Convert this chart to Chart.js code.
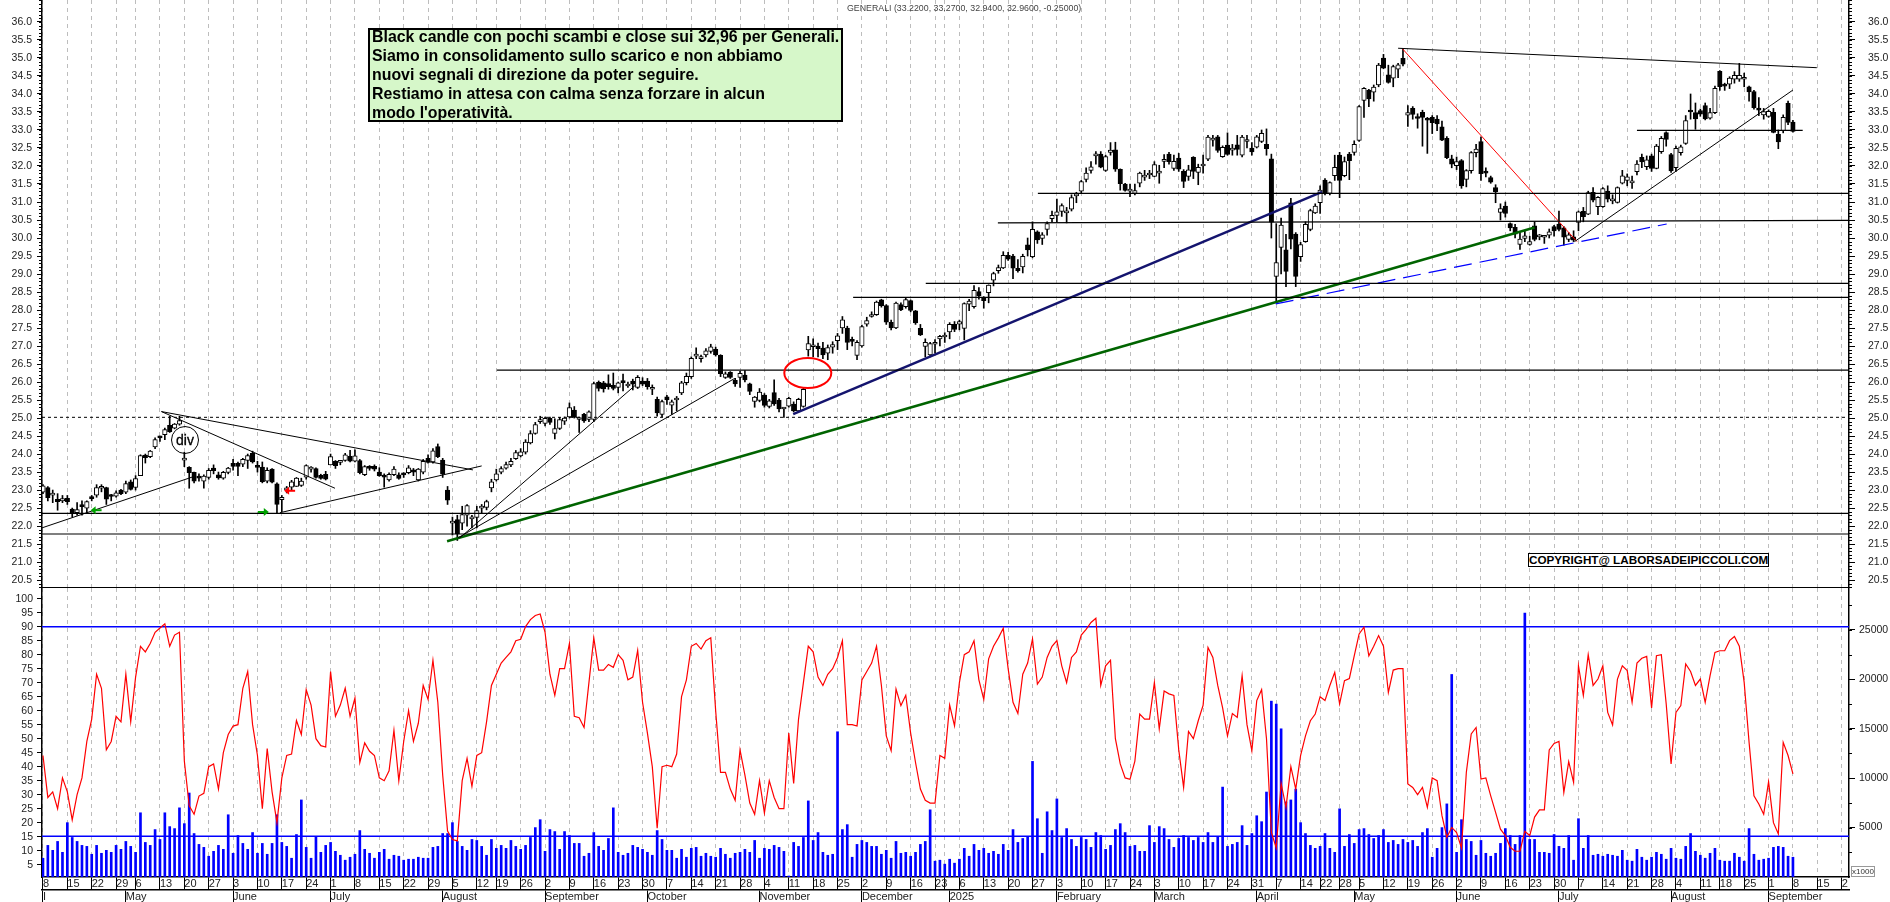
<!DOCTYPE html>
<html><head><meta charset="utf-8">
<style>
html,body{margin:0;padding:0;background:#fff;overflow:hidden;width:1890px;height:902px}
canvas{position:absolute;left:0}
#c1{top:0}#c2{top:588px}
.t{position:absolute;font-family:"Liberation Sans",Arial,sans-serif;white-space:pre}
#title{left:847px;top:2px;font-size:8.8px;color:#444;line-height:12px}
#note{left:368px;top:28px;width:469px;height:90px;background:#d6f7c9;border:2px solid #000;padding:0 0 0 2px;font-weight:bold;font-size:15.9px;line-height:18.9px;color:#000}
#note span{position:relative;top:-2px;display:block}
#copy{left:1528px;top:553px;width:239px;height:12px;background:#fff;border:1.5px solid #000;font-weight:bold;font-size:11.7px;line-height:12px;text-align:center;color:#000}
#divc{left:171px;top:426px;width:26px;height:26px;border:1px solid #000;border-radius:50%;text-align:center;font-size:14px;line-height:26px;color:#000;-webkit-text-stroke:0.3px #000}
#k{left:1851px;top:866px;width:22px;height:9px;border:1px solid #999;font-size:8px;line-height:9px;text-align:center;color:#333;background:#fff}
</style>
<script src="https://cdn.jsdelivr.net/npm/chart.js@4/dist/chart.umd.min.js"></script>
</head><body>
<canvas id="c1" width="1890" height="588"></canvas>
<canvas id="c2" width="1890" height="314"></canvas>
<div class="t" id="title">GENERALI (33.2200, 33.2700, 32.9400, 32.9600, -0.25000)</div>
<div class="t" id="note"><span>Black candle con pochi scambi e close sui 32,96 per Generali.
Siamo in consolidamento sullo scarico e non abbiamo
nuovi segnali di direzione da poter seguire.
Restiamo in attesa con calma senza forzare in alcun
modo l'operatività.</span></div>
<div class="t" id="copy">COPYRIGHT@ LABORSADEIPICCOLI.COM</div>
<div class="t" id="divc">div</div>
<div class="t" id="k">x1000</div>
<script>
const open=[22.94,23.07,22.86,22.74,22.7,22.77,22.47,22.37,22.6,22.5,
22.82,22.86,23.05,23.07,22.87,22.83,23.0,22.94,23.23,23.07,
23.4,23.97,23.93,24.2,24.46,24.54,24.8,24.72,24.83,23.83,
23.63,23.49,23.35,23.25,23.35,23.61,23.42,23.33,23.49,23.74,
23.74,23.72,23.82,24.02,23.65,23.64,23.25,23.58,23.17,22.73,
23.0,23.08,23.1,23.13,23.36,23.58,23.6,23.41,23.44,23.7,
23.8,23.77,23.82,23.94,23.8,23.82,23.43,23.66,23.66,23.5,
23.38,23.28,23.43,23.42,23.46,23.48,23.56,23.28,23.5,23.88,
23.78,24.21,23.83,23.0,22.08,22.18,22.08,22.3,22.2,22.24,
22.5,22.52,23.06,23.28,23.5,23.61,23.7,23.87,23.95,24.05,
24.31,24.57,24.9,24.85,24.99,24.57,24.71,24.91,25.03,25.22,
24.96,25.1,24.96,24.96,25.99,25.98,25.96,25.91,25.85,26.04,
25.89,26.03,25.85,26.03,26.03,25.8,25.52,25.1,25.59,25.36,
25.5,25.7,25.98,26.15,26.72,26.65,26.75,26.85,26.91,26.74,
26.13,26.27,26.05,26.13,26.19,25.95,25.46,25.49,25.64,25.32,
25.71,25.5,25.25,25.33,25.39,25.2,25.32,26.89,26.98,27.0,
26.94,26.8,26.97,27.15,27.5,27.5,27.15,26.74,27.0,27.61,
27.82,27.87,28.28,28.12,27.66,27.5,28.15,28.09,28.26,27.98,
27.49,26.99,26.75,27.05,27.2,27.25,27.39,27.6,27.61,27.49,
28.16,28.09,28.51,28.34,28.48,28.83,29.09,29.17,29.52,29.5,
29.16,29.2,29.81,29.48,30.17,29.99,30.24,30.54,30.63,30.74,
30.7,30.8,31.17,31.3,31.63,31.88,32.28,32.33,31.88,32.38,
32.45,31.91,31.5,31.3,31.24,31.52,31.69,31.75,31.71,31.8,
32.13,32.33,31.93,32.22,31.85,31.71,32.24,31.82,32.0,32.19,
32.72,32.81,32.26,32.58,32.44,32.59,32.3,32.68,32.5,32.52,
32.68,32.6,32.2,28.93,29.74,29.67,30.98,30.11,29.48,29.9,
30.24,30.7,30.98,31.61,31.24,31.73,32.3,31.73,32.33,32.38,
32.71,33.82,34.11,34.05,34.25,35.0,34.53,34.44,34.69,34.99,
33.41,33.6,33.33,33.49,33.3,33.35,33.3,33.09,32.77,32.2,
32.01,32.15,31.63,31.87,32.37,32.68,31.82,31.68,31.4,30.71,
30.89,30.4,30.3,29.82,29.99,29.82,30.34,30.03,30.02,30.08,
30.32,30.39,30.28,29.96,30.03,30.43,30.74,30.66,31.27,30.87,
30.87,31.3,31.03,30.99,31.52,31.6,31.53,31.84,32.24,31.98,
32.28,31.93,32.4,32.93,32.32,31.95,32.37,32.63,33.53,33.48,
33.54,33.68,33.33,33.48,34.63,34.27,34.27,34.41,34.41,34.41,
34.2,34.07,33.57,33.42,33.38,33.49,32.88,32.98,33.74,33.22];
const high=[23.15,23.1,23.0,22.9,22.85,22.85,22.5,22.65,22.7,22.7,
22.85,23.15,23.15,23.08,22.88,22.98,23.02,23.25,23.28,23.4,
23.98,24.0,24.1,24.45,24.5,24.72,25.05,24.85,25.05,24.05,
23.65,23.5,23.45,23.42,23.6,23.7,23.5,23.52,23.63,23.85,
23.78,23.88,24.0,24.08,23.8,23.78,23.62,23.6,23.2,22.85,
23.1,23.27,23.35,23.33,23.7,23.65,23.62,23.44,23.52,24.0,
23.82,23.82,24.02,24.1,24.12,23.85,23.68,23.68,23.7,23.62,
23.45,23.48,23.65,23.48,23.48,23.68,23.6,23.6,23.85,23.98,
24.15,24.28,23.88,23.1,22.25,22.3,22.55,22.6,22.3,22.55,
22.6,22.72,23.3,23.58,23.65,23.78,23.88,24.1,24.15,24.4,
24.65,24.88,25.05,25.03,25.03,24.98,25.02,25.03,25.42,25.32,
25.03,25.13,25.2,26.0,26.03,26.02,26.2,26.25,26.0,26.22,
26.0,26.08,26.18,26.12,26.1,25.92,25.58,25.5,25.63,25.5,
25.6,26.02,26.25,26.7,26.95,26.75,26.93,27.05,26.97,26.76,
26.28,26.29,26.1,26.3,26.32,25.97,25.6,25.82,25.68,25.52,
26.06,25.55,25.3,25.58,25.45,25.55,25.85,27.27,27.2,27.08,
27.1,27.03,27.12,27.35,27.82,27.55,27.25,27.15,27.58,27.8,
27.95,28.25,28.3,28.15,27.72,28.22,28.2,28.33,28.28,27.99,
27.6,27.2,27.1,27.18,27.3,27.37,27.65,27.68,27.72,28.2,
28.3,28.68,28.62,28.37,28.7,29.05,29.25,29.62,29.6,29.55,
29.4,29.55,30.0,30.45,30.2,30.15,30.45,30.75,31.08,30.95,
30.85,31.2,31.27,31.6,31.95,32.12,32.4,32.4,32.3,32.65,
32.66,31.92,31.52,31.5,31.5,31.83,31.88,31.88,32.12,32.02,
32.32,32.38,32.3,32.35,31.9,32.02,32.26,32.05,32.3,32.85,
32.85,32.85,32.56,32.92,32.6,32.85,32.85,32.85,32.65,32.85,
33.0,33.03,32.33,30.4,30.55,30.1,31.1,30.15,29.88,30.45,
30.8,30.95,31.45,31.65,31.56,32.3,32.38,32.25,32.38,32.7,
33.68,34.18,34.13,34.25,34.85,35.1,34.8,34.8,34.85,35.25,
33.68,33.65,33.45,33.55,33.35,33.4,33.4,33.25,32.82,32.3,
32.25,32.18,31.9,32.4,32.6,32.8,31.95,31.72,31.48,30.95,
31.0,30.42,30.38,30.15,30.2,30.05,30.45,30.1,30.06,30.25,
30.35,30.75,30.32,30.15,30.2,30.75,30.85,31.3,31.4,31.15,
31.4,31.45,31.2,31.42,31.88,31.78,31.72,32.15,32.33,32.28,
32.33,32.6,32.82,32.95,32.35,32.55,32.58,33.4,34.0,33.75,
33.58,33.75,33.6,34.22,34.65,34.3,34.48,34.62,34.85,34.58,
34.22,34.1,33.9,33.6,33.56,33.6,33.0,33.42,33.8,33.27];
const low=[22.9,22.7,22.65,22.44,22.65,22.6,22.25,22.3,22.3,22.35,
22.7,22.8,22.95,22.6,22.7,22.8,22.87,22.9,23.0,23.0,
23.4,23.75,23.9,24.15,24.35,24.4,24.6,24.7,24.8,23.65,
23.05,23.2,23.25,23.05,23.3,23.45,23.3,23.3,23.45,23.55,
23.4,23.65,23.6,23.75,23.5,23.2,23.2,23.2,22.35,22.4,
22.92,23.0,23.1,23.1,23.3,23.5,23.33,23.3,23.28,23.7,
23.6,23.7,23.8,23.78,23.78,23.45,23.4,23.55,23.53,23.38,
23.08,23.25,23.4,23.3,23.35,23.45,23.4,23.25,23.45,23.75,
23.75,23.9,23.35,22.6,21.75,21.6,21.9,22.0,21.95,21.95,
22.35,22.45,22.95,23.25,23.45,23.58,23.65,23.85,23.92,24.0,
24.28,24.55,24.85,24.78,24.82,24.42,24.68,24.82,25.0,25.0,
24.6,24.88,24.9,24.9,25.75,25.72,25.8,25.78,25.7,25.75,
25.85,25.78,25.82,25.9,25.8,25.65,25.05,25.03,25.38,25.1,
25.2,25.65,25.92,26.1,26.65,26.55,26.7,26.8,26.72,26.15,
26.1,26.1,25.88,25.85,26.0,25.65,25.3,25.45,25.3,25.28,
25.35,25.17,25.02,25.3,25.17,25.18,25.3,26.72,26.7,26.7,
26.65,26.62,26.8,26.9,27.35,26.9,27.0,26.62,26.97,27.55,
27.8,27.85,28.08,27.6,27.45,27.48,27.98,28.05,27.95,27.6,
27.29,26.7,26.7,26.8,27.0,27.1,27.2,27.4,27.45,27.17,
27.98,28.05,28.3,28.05,28.2,28.67,29.02,29.15,29.38,28.87,
29.05,29.03,29.5,29.45,29.85,29.82,30.08,30.45,30.45,30.6,
30.42,30.75,30.98,31.25,31.56,31.8,32.05,31.95,31.85,32.3,
31.85,31.33,31.3,31.15,31.2,31.42,31.6,31.65,31.7,31.52,
31.95,32.05,31.88,31.85,31.4,31.6,31.65,31.48,31.8,32.15,
32.55,32.38,32.24,32.3,32.3,32.3,32.25,32.5,32.3,32.5,
32.65,32.3,30.0,28.2,29.0,28.65,29.7,28.65,29.35,29.88,
30.2,30.68,30.68,31.2,31.2,31.6,31.12,31.7,31.62,32.3,
32.68,33.35,33.65,33.8,34.2,34.7,34.3,34.2,34.45,34.78,
33.1,33.3,33.05,32.55,32.35,32.9,32.98,32.7,32.2,31.95,
31.9,31.38,31.42,31.8,32.25,31.6,31.7,31.52,30.98,30.5,
30.58,30.2,30.0,29.68,29.9,29.8,29.92,29.95,29.85,30.0,
30.05,30.2,29.8,29.9,29.9,30.2,30.45,30.65,31.0,30.65,
30.85,31.0,30.95,30.97,31.5,31.45,31.38,31.75,31.95,31.9,
31.85,31.92,32.35,32.55,31.82,31.85,32.3,32.6,33.3,33.02,
33.38,33.28,33.3,33.45,34.1,34.1,34.15,34.3,34.35,34.2,
33.8,33.58,33.4,33.3,33.35,32.92,32.48,32.92,33.15,32.94];
const close=[23.12,22.79,22.86,22.68,22.76,22.68,22.35,22.46,22.54,22.68,
22.76,23.07,23.08,22.75,22.82,22.92,22.9,23.18,23.02,23.32,
23.96,23.9,24.08,24.4,24.45,24.68,24.62,24.83,24.93,23.83,
23.48,23.25,23.33,23.39,23.55,23.54,23.34,23.49,23.61,23.66,
23.66,23.85,23.96,23.78,23.63,23.23,23.55,23.22,22.6,22.8,
23.06,23.23,23.33,23.25,23.68,23.6,23.35,23.32,23.3,23.93,
23.68,23.78,23.98,23.8,23.95,23.48,23.65,23.6,23.58,23.4,
23.36,23.44,23.58,23.32,23.42,23.62,23.5,23.58,23.8,23.77,
24.09,23.93,23.44,22.72,22.1,21.78,22.32,22.57,22.21,22.43,
22.52,22.68,23.23,23.45,23.6,23.71,23.8,24.04,24.06,24.33,
24.57,24.82,24.92,24.99,24.88,24.71,24.96,25.0,25.29,25.02,
24.96,24.92,25.17,25.96,25.82,25.81,25.87,25.82,25.98,25.98,
25.94,25.94,26.13,25.94,25.87,25.8,25.14,25.46,25.5,25.45,
25.55,25.98,26.16,26.66,26.74,26.7,26.87,26.98,26.75,26.23,
26.23,26.13,25.95,26.24,26.06,25.74,25.58,25.72,25.35,25.48,
25.39,25.25,25.25,25.55,25.2,25.52,25.8,27.07,27.02,26.93,
26.75,26.96,27.04,27.28,27.73,27.1,27.13,27.1,27.54,27.71,
27.84,28.22,28.12,27.66,27.5,28.19,28.0,28.29,27.99,27.64,
27.31,27.1,27.07,27.06,27.27,27.26,27.6,27.46,27.68,28.18,
28.25,28.55,28.39,28.26,28.69,29.01,29.18,29.52,29.41,29.16,
29.09,29.49,29.67,30.24,29.95,30.09,30.4,30.63,30.73,30.9,
30.7,31.12,31.22,31.57,31.8,31.98,32.33,31.97,32.26,32.44,
31.91,31.51,31.32,31.32,31.32,31.8,31.74,31.76,32.04,31.8,
32.13,32.12,32.13,31.91,31.57,31.89,31.85,31.96,32.05,32.8,
32.77,32.43,32.52,32.32,32.49,32.46,32.8,32.69,32.39,32.81,
32.91,32.48,30.44,29.32,30.36,29.07,29.97,28.93,29.82,30.38,
30.76,30.89,31.33,31.24,31.54,31.96,31.6,32.12,32.15,32.6,
33.65,34.16,33.86,34.19,34.8,34.72,34.32,34.76,34.81,34.83,
33.48,33.43,33.32,33.35,33.27,33.2,33.17,32.72,32.23,32.05,
32.12,31.45,31.87,32.37,32.47,31.79,31.8,31.55,31.28,30.82,
30.68,30.28,30.11,29.97,30.06,29.9,29.96,30.04,30.02,30.17,
30.2,30.24,30.02,30.09,29.94,30.73,30.59,31.26,31.05,31.13,
31.37,31.08,31.03,31.4,31.73,31.7,31.53,32.05,32.11,32.17,
31.93,32.55,32.77,32.74,31.86,32.49,32.53,33.26,33.5,33.31,
33.44,33.31,33.48,34.16,34.2,34.22,34.44,34.52,34.52,34.41,
34.06,33.62,33.55,33.51,33.52,32.93,32.67,33.35,33.21,32.96];
const oscillator=[44,29,31,25,36,31,21,30,36,49,
57,73,68,46,49,58,56,73,56,72,
83,81,84,88,89.5,91,83,87,88,42,
26,23,29.5,30.5,40,41,32,45,51.5,54.5,
55,68,74,55,44,25,46.5,31,20,36,
44,44.5,56.5,51.5,67.5,62,50,47.5,47,74,
58,62,68,58,64.5,41.5,48.5,45.5,44,36,
35,38.5,53,35,49,60,49,55.5,69,64,
78,63,37,17,14,13.5,35,43,33,44,
45,56,69,73,77,79,81,85,85.5,90,
92.5,94,94.5,88,73,65.5,75,75,84,58,
57.5,54,70,86,74.5,74.5,76.5,75.5,80,78,
71,72,81.5,63,52,40,18,40,40.5,40,
44.5,65,71,83,84,82,85,86,60,38,
38,32,28,46,37,27,23,35,23.5,35,
29,25,25,52,34,57,70,83,81,72,
69,73,75,79,85,55,55,54.5,71,74,
77,83,69,51,45.7,67.7,61.8,65.5,52,41.5,
32,28,27,27,44,43,62,54.6,70,80,
81,85,71,64,78.5,83,86,89.4,75,63,
59,73,77,85.6,69.5,72,79,83,85,76,
70,79,81,87,89,91.5,93,69,76,78,
50,41,36,35.5,42,58.8,57,57,70,53.5,
67,66,65.4,46,32.6,52.6,50,56.4,62,82.6,
79,69,61,51,59,57.6,72.5,55,45.7,63.6,
67.5,50,16.5,11,34,25.5,40,32,44,51,
56.4,58.8,65,63.6,69,73.7,62.4,70.7,71.5,79.6,
87.4,89.8,79.6,83,86.8,83,66.5,74.5,75,75,
33.8,32.6,30,32.6,25.5,36,35,22.5,14.8,18.3,
16.5,11,38,51.7,54,35.6,36,29.6,23.7,17.7,
15.4,11.2,9.8,9.8,16.9,15.4,22,24.6,24.6,46,
48.3,49,30.8,41.8,34.4,76,65.4,80,69,71.3,
76,59.4,54.9,71.3,76,74.3,63,77,78.7,79.4,
61,79.6,80,62.4,41,59.4,61.8,76.7,74,69,
71.3,63,72.5,80.8,81.4,81.4,85,86.5,83,70,
48.7,29.6,26.7,23,34.6,20,16,48.7,44,37.4];
const volume=[1900,3200,2700,3600,2500,5500,4000,3600,3200,3100,
2300,3200,2400,2700,2500,3200,2800,3600,3100,2500,
6500,3500,3200,4800,3800,6500,5100,4900,7000,5400,
8500,4400,3300,3000,2100,2600,3200,2800,6300,2400,
4200,3400,2800,4500,2400,3400,2300,3400,6300,3500,
3100,1900,4300,7800,3000,1900,4100,2500,3200,3500,
2600,2200,1700,2000,2300,4700,2800,2400,1900,2500,
2800,1800,2200,2100,1700,1800,1800,2000,1900,1900,
3000,3100,4400,4400,5500,3600,3100,2700,3800,3700,
3100,2200,3800,2900,3200,2900,3700,3100,2800,3200,
4000,5000,5800,2600,4800,4600,2800,4600,4200,3400,
3400,2100,2400,4500,3100,2700,3900,7000,2500,2200,
2400,3200,3000,2800,2500,2200,4700,3800,2700,2700,1900,
2800,2000,2900,3000,2100,2400,2100,2000,2900,2300,
1900,2400,2500,2800,2500,3700,1900,2900,2800,3200,
3000,2600,100,3500,3100,4000,7700,3700,4500,2500,
2200,2300,14700,4800,5300,2000,3300,3700,3500,3100,
3100,2300,2700,1900,3600,2400,2500,2100,2500,3300,
3600,6800,1600,1700,1300,1800,1400,1800,2900,2100,
3300,2700,2900,2400,2600,2300,3300,2700,4800,3500,
3900,4100,11700,5900,2400,6600,4700,7900,4000,4900,
3800,3100,4000,3800,3000,4500,4200,2800,3200,4800,
5400,4500,3100,3200,2600,2600,5200,3500,5100,4900,
3800,3000,3900,4200,4000,3700,4000,3500,4500,3500,
4100,9100,3100,3300,3500,5200,3200,
4400,6200,5600,8600,17800,17500,15000,7600,7800,8900,5500,4400,
3200,2900,3100,4400,2900,2500,6900,3100,4300,3400,
4800,4900,4300,3900,4200,4800,3500,3700,3300,3800,
3500,3700,3100,4500,4900,2000,2900,5000,7400,20500,
2500,5800,3800,3600,2200,3700,2400,2100,2400,3400,
4900,4200,3300,4200,26700,3800,3800,2500,2500,2400,
4300,3100,2900,4200,1700,5900,2900,4200,2200,2300,
2100,2300,2200,2100,2700,1700,1600,2800,2000,1700,
2000,2500,2300,1800,2900,1900,1800,3100,4400,2600,
2200,1900,2400,2900,1700,1600,1600,2400,2000,1600,
4900,2300,1700,1800,1900,3000,3100,3000,2100,2000];

const weekIndex=[0,5,10,15,19,24,29,34,39,44,49,54,59,64,69,74,79,84,89,93,98,103,108,113,118,123,128,133,138,143,148,153,158,163,168,173,178,183,185,188,193,198,203,208,213,218,223,228,233,238,243,248,253,258,262,266,270,275,280,285,290,295,300,305,310,315,320,325,330,335,340,344,349,354,359,364,369];
const weekLabels=['8','15','22','29','6','13','20','27','3','10','17','24','1','8','15','22','29','5','12','19','26','2','9','16','23','30','7','14','21','28','4','11','18','25','2','9','16','23','','6','13','20','27','3','10','17','24','3','10','17','24','31','7','14','22','28','5','12','19','26','2','9','16','23','30','7','14','21','28','4','11','18','25','1','8','15','2'];
const monthIndex=[0,17,39,59,82,103,124,147,168,186,208,228,249,269,290,311,334,354];
const monthLabels=['I','May','June','July','August','September','October','November','December','2025','February','March','April','May','June','July','August','September'];
const priceTicks=[20.5,21,21.5,22,22.5,23,23.5,24,24.5,25,25.5,26,26.5,27,27.5,28,28.5,29,29.5,30,30.5,31,31.5,32,32.5,33,33.5,34,34.5,35,35.5,36];
const oscTicks=[5,10,15,20,25,30,35,40,45,50,55,60,65,70,75,80,85,90,95,100];
const volTicks=[5000,10000,15000,20000,25000];

const xMin=-0.2,xMax=370.5;
// trend lines and levels, in [candle index, price]
const levelLines=[
 [[xMin,22.35],[xMax,22.35]],
 [[xMin,21.78],[xMax,21.78]],
 [[93.1,26.33],[xMax,26.33]],
 [[166.2,28.35],[xMax,28.35]],
 [[181.1,28.74],[xMax,28.74]],
 [[195.9,30.42],[xMax,30.49]],
 [[204.1,31.24],[xMax,31.24]],
 [[327,32.99],[361,32.99]]];
const thinLines=[
 [[278,35.27],[363.9,34.73]],
 [[314.2,29.9],[359,34.11]],
 [[85.5,21.67],[121.6,25.92]],
 [[85.1,21.67],[141.9,26.1]],
 [[24.3,25.18],[88.2,23.56]],
 [[24.3,25.18],[59.9,23.05]],
 [[xMin,21.95],[30.8,23.37]],
 [[48.6,22.37],[90,23.67]]];
const dashedLevel=[[xMin,25.02],[xMax,25.02]];
const redTrend=[[278.8,35.27],[314.7,29.9]];
const blueDash=[[252.9,28.17],[333.1,30.39]];
const greenTrend=[[82.9,21.58],[306,30.29]];
const navyTrend=[[153.9,25.11],[262.4,31.28]];
const oscLevels=[90,15.2];
const ellipseMark={i:156.9,p:26.25};
const arrowMarks=[{i:11,p:22.44,dir:-1,c:'#00a000'},{i:45.1,p:22.39,dir:1,c:'#00a000'},{i:50.7,p:22.98,dir:-1,c:'#ff0000'}];

const FONT='"Liberation Sans",Arial,sans-serif';
Chart.defaults.font.family=FONT;
const pts=a=>a.map(([x,y])=>({x,y}));
const lineDs=(a,color,w,extra={})=>Object.assign({type:'line',data:pts(a),borderColor:color,borderWidth:w,pointRadius:0,tension:0,order:5,xAxisID:'x',yAxisID:'y',fill:false},extra);
const setTicks=list=>s=>{s.ticks=list.map(v=>({value:v}));};
const fitW=w=>s=>{s.width=w;s.paddingTop=0;s.paddingBottom=0;};
const fitH=h=>s=>{s.height=h;s.paddingLeft=0;s.paddingRight=0;};
const gridX={color:'#bdbdbd',lineWidth:1,offset:false};
const axisFont={size:10.5};

function minorTicks(ctx,scale,step,x0,len,from,to){
  ctx.save();ctx.strokeStyle='#000';ctx.lineWidth=1;ctx.beginPath();
  const n=Math.round((to-from)/step);
  for(let k=0;k<=n;k++){const y=Math.round(scale.getPixelForValue(from+k*step))+0.5;ctx.moveTo(x0,y);ctx.lineTo(x0+len,y);}
  ctx.stroke();ctx.restore();
}
const topMarks={id:'topMarks',afterDraw(ch){
  const c=ch.ctx,x=ch.scales.x,y=ch.scales.y,yr=ch.scales.yr,a=ch.chartArea;
  minorTicks(c,y,0.1,a.left-3,3,20.3,36.6);
  minorTicks(c,yr,0.1,a.right,3,20.3,36.6);
  c.save();
  c.strokeStyle='#ff0000';c.lineWidth=2;c.beginPath();
  c.ellipse(x.getPixelForValue(ellipseMark.i),y.getPixelForValue(ellipseMark.p),23.5,15,0,0,Math.PI*2);c.stroke();
  arrowMarks.forEach(m=>{
    const px=x.getPixelForValue(m.i),py=y.getPixelForValue(m.p),d=m.dir;
    c.strokeStyle=m.c;c.fillStyle=m.c;c.lineWidth=2;
    c.beginPath();c.moveTo(px-5*d,py);c.lineTo(px+4*d,py);c.stroke();
    c.beginPath();c.moveTo(px+6*d,py);c.lineTo(px+1*d,py-4);c.lineTo(px+1*d,py+4);c.closePath();c.fill();
  });
  c.restore();
}};
const lowMarks={id:'lowMarks',afterDraw(ch){
  minorTicks(ch.ctx,ch.scales.yv,2500,ch.chartArea.right,3,2500,27500);
}};

new Chart(document.getElementById('c1'),{
  type:'bar',
  plugins:[topMarks],
  data:{datasets:[
    {type:'bar',grouped:false,order:30,barThickness:1,backgroundColor:'#000',borderWidth:0,minBarLength:1,xAxisID:'x',yAxisID:'y',
      data:low.map((l,i)=>({x:i,y:[l,high[i]]}))},
    {type:'bar',grouped:false,order:20,barThickness:4.5,minBarLength:2,borderColor:'#000',borderWidth:1,borderSkipped:false,xAxisID:'x',yAxisID:'y',
      backgroundColor:close.map((c,i)=>c>=open[i]?'#fff':'#000'),
      data:open.map((o,i)=>({x:i,y:[o,close[i]]}))},
    ...levelLines.map(l=>lineDs(l,'#000',1.2)),
    ...thinLines.map(l=>lineDs(l,'#000',1)),
    lineDs(dashedLevel,'#000',1,{borderDash:[3,3]}),
    lineDs(redTrend,'#ff0000',1),
    lineDs(blueDash,'#0000ff',1.2,{borderDash:[18,8]}),
    lineDs(greenTrend,'#006400',2.5),
    lineDs(navyTrend,'#14146e',2.5)
  ]},
  options:{
    responsive:false,animation:false,devicePixelRatio:1,
    layout:{padding:0},
    plugins:{legend:{display:false},tooltip:{enabled:false}},
    scales:{
      x:{type:'linear',position:'bottom',min:xMin,max:xMax,offset:false,
        afterBuildTicks:setTicks(weekIndex),afterFit:fitH(0),
        grid:Object.assign({drawTicks:false},gridX),
        border:{display:true,color:'#000',width:2,dash:[4,4]},
        ticks:{display:false,autoSkip:false}},
      y:{type:'linear',position:'left',min:20.28,max:36.61,
        afterBuildTicks:setTicks(priceTicks),afterFit:fitW(42),
        grid:{drawOnChartArea:false,tickLength:5,tickColor:'#000'},
        border:{color:'#000',width:1.5},
        ticks:{autoSkip:false,padding:5,color:'#222',font:axisFont,callback:v=>v.toFixed(1)}},
      yr:{type:'linear',position:'right',min:20.28,max:36.61,
        afterBuildTicks:setTicks(priceTicks),afterFit:fitW(41),
        grid:{drawOnChartArea:false,tickLength:6,tickColor:'#000'},
        border:{color:'#000',width:1.5},
        ticks:{autoSkip:false,padding:13,color:'#222',font:axisFont,callback:v=>v.toFixed(1)}}
    }
  }
});

new Chart(document.getElementById('c2'),{
  type:'bar',
  plugins:[lowMarks],
  data:{datasets:[
    {type:'bar',grouped:false,order:20,barThickness:2,backgroundColor:'#0000ff',borderWidth:0,xAxisID:'x',yAxisID:'yv',
      data:volume.map((v,i)=>({x:i,y:v}))},
    {type:'line',order:5,xAxisID:'x',yAxisID:'y',borderColor:'#ff0000',borderWidth:1.2,pointRadius:0,tension:0,fill:false,
      data:oscillator.map((v,i)=>({x:i,y:v}))},
    ...oscLevels.map(v=>({type:'line',order:10,xAxisID:'x',yAxisID:'y',borderColor:'#0000ff',borderWidth:1.5,pointRadius:0,fill:false,
      data:[{x:xMin,y:v},{x:xMax,y:v}]}))
  ]},
  options:{
    responsive:false,animation:false,devicePixelRatio:1,
    layout:{padding:0},
    plugins:{legend:{display:false},tooltip:{enabled:false}},
    scales:{
      x:{type:'linear',position:'bottom',weight:0,min:xMin,max:xMax,offset:false,
        afterBuildTicks:setTicks(weekIndex),afterFit:fitH(13),
        grid:Object.assign({tickLength:13,tickColor:'#000',tickWidth:1},gridX),
        border:{display:true,color:'#000',width:1.5,dash:[4,4]},
        ticks:{autoSkip:false,maxRotation:0,minRotation:0,align:'start',padding:-13,color:'#222',font:{size:11},
          callback:v=>weekLabels[weekIndex.indexOf(v)]}},
      x2:{type:'linear',position:'bottom',weight:1,min:xMin,max:xMax,offset:false,
        afterBuildTicks:setTicks(monthIndex),afterFit:fitH(12),
        grid:{drawOnChartArea:false,offset:false,tickLength:12,tickColor:'#000',tickWidth:1},
        border:{display:true,color:'#000',width:1.5},
        ticks:{autoSkip:false,maxRotation:0,minRotation:0,align:'start',padding:-12,color:'#222',font:{size:11},
          callback:v=>monthLabels[monthIndex.indexOf(v)]}},
      y:{type:'linear',position:'left',min:0.61,max:103.8,
        afterBuildTicks:setTicks(oscTicks),afterFit:fitW(42),
        grid:{drawOnChartArea:false,tickLength:5,tickColor:'#000'},
        border:{color:'#000',width:1.5},
        ticks:{autoSkip:false,padding:4,color:'#222',font:axisFont}},
      yv:{type:'linear',position:'right',min:0,max:29250,
        afterBuildTicks:setTicks(volTicks),afterFit:fitW(41),
        grid:{drawOnChartArea:false,tickLength:6,tickColor:'#000'},
        border:{color:'#000',width:1.5},
        ticks:{autoSkip:false,padding:4,color:'#222',font:axisFont,callback:v=>String(v)}}
    }
  }
});
</script>
</body></html>
